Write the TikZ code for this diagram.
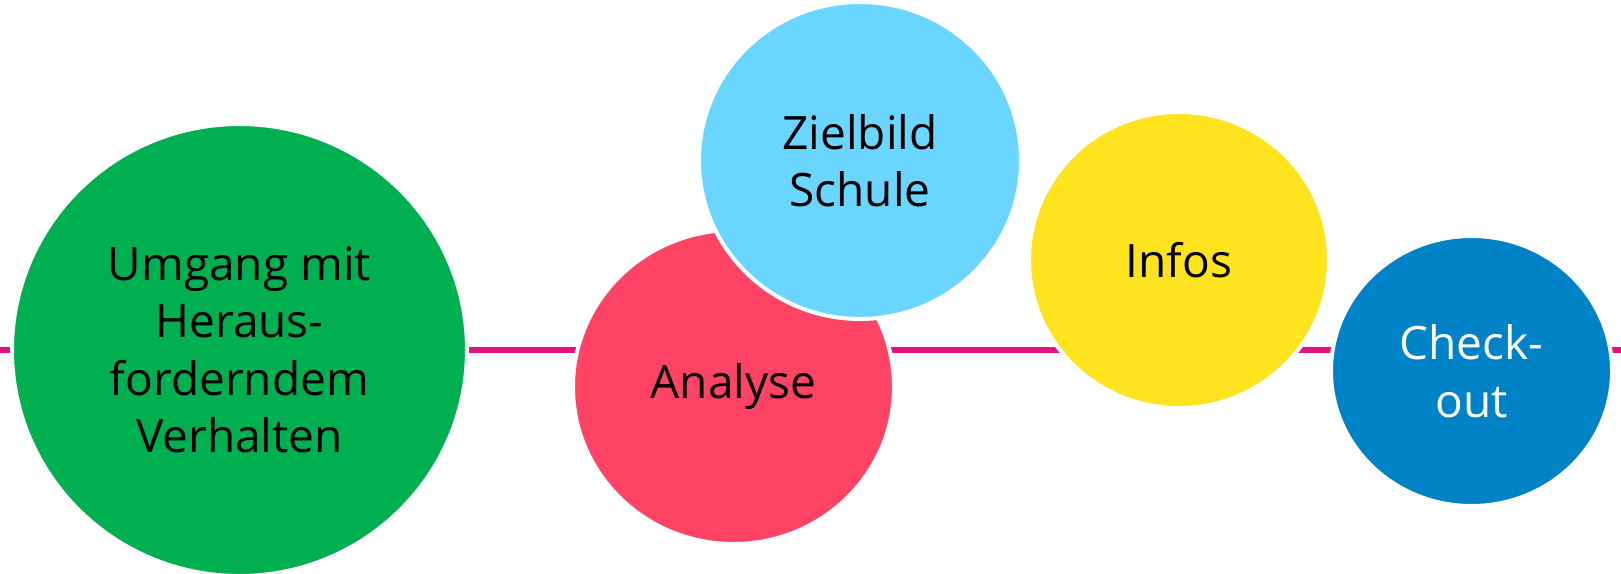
\documentclass[tikz,border=0pt]{standalone}
\usepackage{fontspec}
\setmainfont{Open Sans}
\usetikzlibrary{shapes.geometric}
\definecolor{cgreen}{RGB}{0,175,80}
\definecolor{cred}{RGB}{255,67,100}
\definecolor{ccyan}{RGB}{106,213,254}
\definecolor{cyellow}{RGB}{255,227,30}
\definecolor{cblue}{RGB}{0,131,198}
\definecolor{cmag}{RGB}{224,20,126}
\tikzset{
  bubble/.style={ellipse, draw=white, line width=4pt, inner sep=0pt, outer sep=0pt,
    align=center, font=\fontsize{46}{57.5}\selectfont},
  timeline/.style={draw=cmag, line width=6pt}
}
\begin{document}
\begin{tikzpicture}[x=1pt,y=-1pt]
\useasboundingbox[fill=white] (0,0) rectangle (1621,573);
\coordinate (ls) at (0,350);
\coordinate (le) at (1621,350);
\draw[timeline] (ls) -- (le);
\node[bubble, fill=cgreen, minimum width=455pt, minimum height=452pt] (g) at (239.5,350) {Umgang mit\\Heraus-\\forderndem\\Verhalten};
\node[bubble, fill=cred, minimum width=321pt, minimum height=314pt] (r) at (733.5,387) {Analyse};
\node[bubble, fill=ccyan, minimum width=322pt, minimum height=317pt] (c) at (860,160.5) {Zielbild\\Schule};
\node[bubble, fill=cyellow, minimum width=300pt, minimum height=296pt] (y) at (1179,260) {Infos};
\node[bubble, fill=cblue, text=white, minimum width=281pt, minimum height=270pt] (b) at (1471.5,371) {Check-\\out};
\end{tikzpicture}
\end{document}
